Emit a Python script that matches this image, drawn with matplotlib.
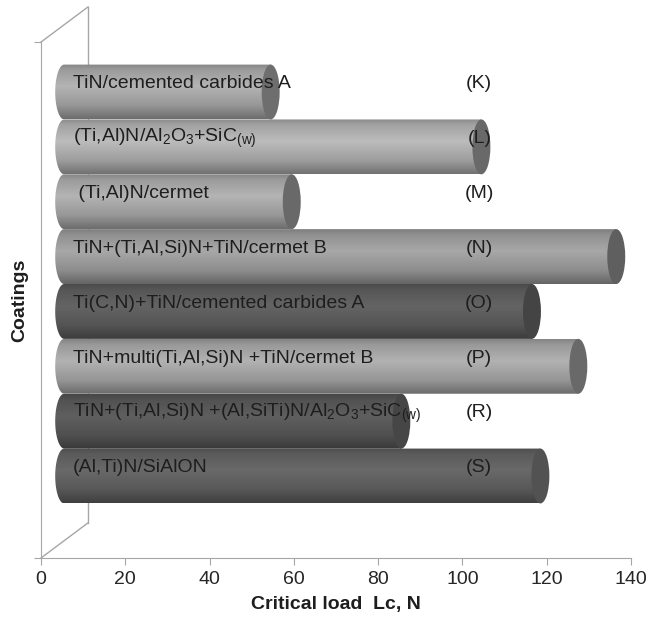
import numpy as np
import matplotlib
matplotlib.use('Agg')
import matplotlib.pyplot as plt
from matplotlib.path import Path
from matplotlib.patches import PathPatch, Ellipse

plt.rcParams['font.family'] = ['Liberation Sans', 'DejaVu Sans']
plt.rcParams['mathtext.fontset'] = 'custom'
plt.rcParams['mathtext.rm'] = 'Liberation Sans'
plt.rcParams['mathtext.it'] = 'Liberation Sans:italic'
plt.rcParams['mathtext.bf'] = 'Liberation Sans:bold'
plt.rcParams['mathtext.default'] = 'regular'

# Datos (de abajo hacia arriba)
recubrimientos = [
    '(Al,Ti)N/SiAlON',
    'TiN+(Ti,Al,Si)N +(Al,SiTi)N/Al$_2$O$_3$+SiC$_{(w)}$',
    'TiN+multi(Ti,Al,Si)N +TiN/cermet B',
    'Ti(C,N)+TiN/cemented carbides A',
    'TiN+(Ti,Al,Si)N+TiN/cermet B',
    ' (Ti,Al)N/cermet',
    '(Ti,Al)N/Al$_2$O$_3$+SiC$_{(w)}$',
    'TiN/cemented carbides A',
]
letras = ['(S)', '(R)', '(P)', '(O)', '(N)', '(M)', '(L)', '(K)']
carga_critica = [113, 80, 122, 111, 131, 54, 99, 49]

# tonos de gris (brillo maximo del cilindro y color de la tapa)
tono = [105, 95, 178, 100, 168, 180, 188, 180]
tono_tapa = [82, 70, 105, 68, 95, 105, 105, 110]

fig = plt.figure(figsize=(6.48, 6.21), dpi=100)
ax = fig.add_axes([41/648, 63/621, 590/648, 551/621])

y_min, y_max = -1.495, 8.55
ax.set_xlim(0, 140)
ax.set_ylim(y_min, y_max)

gris = '#a6a6a6'
prof_x, prof_y = 11.15, 0.64   # profundidad del "3D"
y_frente_top = 7.911

# marco 3D
for s in ['top', 'right']:
    ax.spines[s].set_visible(False)
ax.spines['bottom'].set_color(gris)
ax.spines['left'].set_color(gris)
ax.spines['left'].set_bounds(y_min, y_frente_top)
ax.plot([prof_x, prof_x], [y_min + prof_y, y_frente_top + prof_y], color=gris, lw=1, clip_on=False)
ax.plot([0, prof_x], [y_min, y_min + prof_y], color=gris, lw=1, clip_on=False)
ax.plot([0, prof_x], [y_frente_top, y_frente_top + prof_y], color=gris, lw=1, clip_on=False)

ax.set_yticks([y_min, y_frente_top])
ax.set_yticklabels([])
ax.tick_params(axis='y', colors=gris, length=5)
ax.set_xticks(range(0, 141, 20))
ax.tick_params(axis='x', colors=gris, labelcolor='#262626', labelsize=14, length=5, pad=4)

# cilindros
x0 = 5.5        # inicio (mitad de la profundidad)
a = 2.13        # semieje horizontal de la tapa
alto = 1.0
t = np.linspace(0, 1, 200)
perfil = np.interp(t, [0, 0.1, 0.4, 0.75, 1.0], [0.74, 0.86, 1.0, 0.84, 0.6])

for i, (val, g, gt) in enumerate(zip(carga_critica, tono, tono_tapa)):
    yc = i
    x1 = x0 + val
    ang = np.linspace(np.pi / 2, 3 * np.pi / 2, 40)
    verts = [(x0 + a * np.cos(th), yc + 0.5 * np.sin(th)) for th in ang]
    verts += [(x1, yc - 0.5), (x1, yc + 0.5), (x0, yc + 0.5)]
    codes = [Path.MOVETO] + [Path.LINETO] * (len(verts) - 2) + [Path.CLOSEPOLY]
    forma = PathPatch(Path(verts, codes), facecolor='none', edgecolor='none', transform=ax.transData)
    ax.add_patch(forma)
    col = np.clip(g / 255 * perfil, 0, 1)
    img = np.repeat(col[:, None], 2, axis=1)
    img = np.dstack([img, img, img])
    im = ax.imshow(img, extent=[x0 - a, x1, yc - 0.5, yc + 0.5], origin='upper',
                   aspect='auto', interpolation='bilinear', zorder=2 + i * 0.01)
    im.set_clip_path(forma)
    tapa = Ellipse((x1, yc), 2 * a, alto, facecolor=str(gt / 255), edgecolor='none',
                   zorder=2.005 + i * 0.01)
    ax.add_patch(tapa)

ax.set_aspect('auto')
ax.set_xlim(0, 140)
ax.set_ylim(y_min, y_max)

for i, (txt, let) in enumerate(zip(recubrimientos, letras)):
    ax.text(7.6, i + 0.15, txt, fontsize=14, color='#1e1e1e', va='center', ha='left', zorder=5)
    ax.text(104, i + 0.15, let, fontsize=14, color='#1e1e1e', va='center', ha='center', zorder=5)

ax.set_xlabel('Critical load  Lc, N', fontsize=14, fontweight='bold', color='#1e1e1e', labelpad=6)
fig.text(20/648, 1 - 300/621, 'Coatings', rotation=90, fontsize=14, fontweight='bold',
         color='#1e1e1e', ha='center', va='center')

fig.savefig('out.png', dpi=100)
